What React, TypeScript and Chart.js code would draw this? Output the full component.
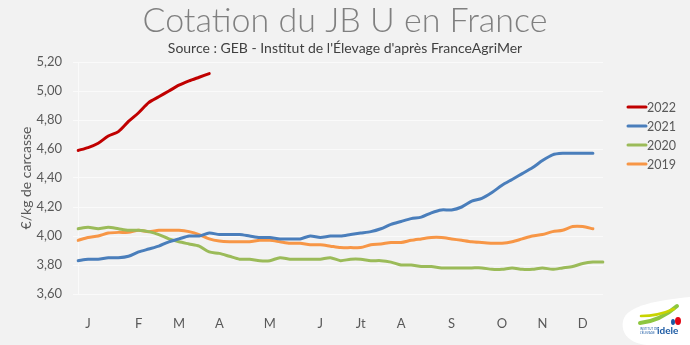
import React, { useEffect, useRef } from "react";
import { Chart, registerables } from "chart.js";

Chart.register(...registerables);

// ---- data ----
const weekLabels = [
  "1", "2", "3", "4", "5", "6", "7", "8", "9", "10", "11", "12", "13", "14", "15", "16", "17", "18",
  "19", "20", "21", "22", "23", "24", "25", "26", "27", "28", "29", "30", "31", "32", "33", "34", "35",
  "36", "37", "38", "39", "40", "41", "42", "43", "44", "45", "46", "47", "48", "49", "50", "51", "52", "53",
];
const monthLabels = ["J", "F", "M", "A", "M", "J", "Jt", "A", "S", "O", "N", "D"];
const monthWeekIndex = [1, 6, 10, 14, 19, 24, 28, 32, 37, 42, 46, 50];

const seriesNames = ["2022", "2021", "2020", "2019"];

const values2022 = [4.59, 4.61, 4.64, 4.69, 4.72, 4.79, 4.85, 4.92, 4.96, 5.0, 5.04, 5.07, 5.095, 5.12];

const values2021 = [
  3.83, 3.84, 3.84, 3.85, 3.85, 3.86, 3.89, 3.91, 3.93, 3.96, 3.98, 4.0, 4.0, 4.02, 4.01, 4.01, 4.01, 4.0,
  3.99, 3.99, 3.98, 3.98, 3.98, 4.0, 3.99, 4.0, 4.0, 4.01, 4.02, 4.03, 4.05, 4.08, 4.1, 4.12, 4.13, 4.16,
  4.18, 4.18, 4.2, 4.24, 4.26, 4.3, 4.35, 4.39, 4.43, 4.47, 4.52, 4.56, 4.57, 4.57, 4.57, 4.57,
];

const values2020 = [
  4.05, 4.06, 4.05, 4.06, 4.05, 4.04, 4.04, 4.03, 4.01, 3.98, 3.96, 3.945, 3.93, 3.89, 3.88, 3.86, 3.84,
  3.84, 3.83, 3.83, 3.85, 3.84, 3.84, 3.84, 3.84, 3.85, 3.83, 3.84, 3.84, 3.83, 3.83, 3.82, 3.8, 3.8,
  3.79, 3.79, 3.78, 3.78, 3.78, 3.78, 3.78, 3.77, 3.77, 3.78, 3.77, 3.77, 3.78, 3.77, 3.78, 3.79, 3.81,
  3.82, 3.82,
];

const values2019 = [
  3.97, 3.99, 4.0, 4.02, 4.025, 4.025, 4.04, 4.03, 4.04, 4.04, 4.04, 4.03, 4.01, 3.98, 3.965, 3.96, 3.96,
  3.96, 3.97, 3.97, 3.96, 3.95, 3.95, 3.94, 3.94, 3.93, 3.92, 3.92, 3.92, 3.94, 3.945, 3.955, 3.955, 3.97,
  3.98, 3.99, 3.99, 3.98, 3.97, 3.96, 3.955, 3.95, 3.95, 3.96, 3.98, 4.0, 4.01, 4.03, 4.04, 4.065, 4.065,
  4.05,
];

const seriesColors = ["#C00000", "#4A7EBB", "#9BBB59", "#F79646"];

const titleText = "Cotation du JB U en France";
const subtitleText = "Source : GEB - Institut de l'Élevage d'après FranceAgriMer";
const yAxisTitle = "€/kg de carcasse";

const FONT = "Lato, 'Open Sans', 'DejaVu Sans', sans-serif";

// ---- plugins ----
const backgroundPlugin = {
  id: "bgFill",
  beforeDraw(chart: any) {
    const ctx = chart.ctx;
    ctx.save();
    ctx.fillStyle = "#F2F2F2";
    ctx.fillRect(0, 0, chart.width, chart.height);
    ctx.restore();
  },
};

const headerPlugin = {
  id: "header",
  afterDraw(chart: any) {
    const ctx = chart.ctx;
    const cx = chart.width / 2;
    ctx.save();
    ctx.textAlign = "center";
    ctx.textBaseline = "middle";
    ctx.fillStyle = "#808080";
    ctx.font = `300 34px ${FONT}`;
    ctx.fillText(titleText, cx, 21);
    ctx.fillStyle = "#404040";
    ctx.font = `14px ${FONT}`;
    ctx.fillText(subtitleText, cx, 48.5);
    ctx.restore();
  },
};

const sideLegendPlugin = {
  id: "sideLegend",
  afterDraw(chart: any) {
    const ctx = chart.ctx;
    const x0 = chart.chartArea.right + 25;
    const yStart = chart.chartArea.top + 45;
    const step = 19;
    ctx.save();
    ctx.font = `12.5px ${FONT}`;
    ctx.textBaseline = "middle";
    ctx.textAlign = "left";
    chart.data.datasets.forEach((ds: any, i: number) => {
      const y = yStart + i * step;
      ctx.strokeStyle = ds.borderColor;
      ctx.lineWidth = 3;
      ctx.lineCap = "round";
      ctx.beginPath();
      ctx.moveTo(x0, y);
      ctx.lineTo(x0 + 18, y);
      ctx.stroke();
      ctx.fillStyle = "#595959";
      ctx.fillText(ds.label, x0 + 19, y + 1);
    });
    ctx.restore();
  },
};

const logoPlugin = {
  id: "ideleLogo",
  afterDraw(chart: any) {
    const ctx = chart.ctx;
    const W = chart.width;
    const H = chart.height;
    ctx.save();
    // white badge
    ctx.fillStyle = "#FFFFFF";
    ctx.beginPath();
    ctx.moveTo(W, H - 48);
    ctx.bezierCurveTo(W - 30, H - 45, W - 64, H - 40, W - 67, H - 24);
    ctx.bezierCurveTo(W - 70, H - 8, W - 55, H, W - 40, H);
    ctx.lineTo(W, H);
    ctx.closePath();
    ctx.fill();
    // green swoosh
    ctx.strokeStyle = "#8DC63F";
    ctx.lineWidth = 4;
    ctx.lineCap = "round";
    ctx.beginPath();
    ctx.moveTo(W - 50, H - 22);
    ctx.quadraticCurveTo(W - 30, H - 24, W - 13, H - 39);
    ctx.stroke();
    ctx.strokeStyle = "#C8D400";
    ctx.lineWidth = 2.5;
    ctx.beginPath();
    ctx.moveTo(W - 49, H - 29);
    ctx.quadraticCurveTo(W - 32, H - 29, W - 16, H - 36);
    ctx.stroke();
    // marks
    ctx.fillStyle = "#E30613";
    ctx.beginPath();
    ctx.ellipse(W - 12, H - 24, 3, 4, 0, 0, Math.PI * 2);
    ctx.fill();
    ctx.fillStyle = "#1D5BA4";
    ctx.beginPath();
    ctx.ellipse(W - 17, H - 23, 2, 3, 0, 0, Math.PI * 2);
    ctx.fill();
    // text
    ctx.fillStyle = "#1D5BA4";
    ctx.font = `bold 10px ${FONT}`;
    ctx.textBaseline = "middle";
    ctx.textAlign = "left";
    ctx.fillText("idele", W - 33, H - 14);
    ctx.font = `3px ${FONT}`;
    ctx.fillText("INSTITUT DE", W - 50, H - 16);
    ctx.fillText("L'ÉLEVAGE", W - 50, H - 12);
    ctx.restore();
  },
};

export default function App() {
  const canvasRef = useRef<HTMLCanvasElement | null>(null);

  useEffect(() => {
    if (!canvasRef.current) return;
    const seriesValues = [values2022, values2021, values2020, values2019];
    const chart = new Chart(canvasRef.current, {
      type: "line",
      data: {
        labels: weekLabels,
        datasets: seriesNames.map((name, i) => ({
          label: name,
          data: seriesValues[i],
          borderColor: seriesColors[i],
          backgroundColor: seriesColors[i],
          borderWidth: 3,
          pointRadius: 0,
          tension: 0.25,
          fill: false,
          borderCapStyle: "round" as const,
          borderJoinStyle: "round" as const,
        })),
      },
      options: {
        responsive: false,
        animation: false,
        devicePixelRatio: 1,
        layout: { padding: { left: 18, right: 87, top: 62, bottom: 6 } },
        plugins: {
          legend: { display: false },
          tooltip: { enabled: false },
          title: { display: false },
        },
        scales: {
          x: {
            type: "category",
            offset: false,
            grid: { display: false, drawTicks: false },
            border: { display: false },
            afterFit: (scale: any) => {
              scale.height = 45;
            },
            ticks: {
              autoSkip: false,
              maxRotation: 0,
              minRotation: 0,
              padding: 22,
              color: "#595959",
              font: { family: FONT, size: 13 },
              callback: (_v: any, idx: number) => {
                const k = monthWeekIndex.indexOf(idx);
                return k >= 0 ? monthLabels[k] : "";
              },
            },
          },
          y: {
            min: 3.6,
            max: 5.2,
            afterFit: (scale: any) => {
              scale.width = 60;
            },
            grid: { color: "#FAFAFA", lineWidth: 1, tickLength: 5, tickColor: "#FAFAFA" },
            border: { display: true, color: "#FAFAFA" },
            ticks: {
              stepSize: 0.2,
              padding: 11,
              color: "#595959",
              font: { family: FONT, size: 13 },
              callback: (v: any) => Number(v).toFixed(2).replace(".", ","),
            },
            title: {
              display: true,
              text: yAxisTitle,
              color: "#595959",
              font: { family: FONT, size: 14 },
              padding: { top: 0, bottom: 2 },
            },
          },
        },
      },
      plugins: [backgroundPlugin, headerPlugin, sideLegendPlugin, logoPlugin],
    });
    return () => chart.destroy();
  }, []);

  return (
    <div style={{ position: "fixed", left: 0, top: 0, width: 690, height: 345 }}>
      <canvas ref={canvasRef} width={690} height={345} style={{ display: "block" }} />
    </div>
  );
}
